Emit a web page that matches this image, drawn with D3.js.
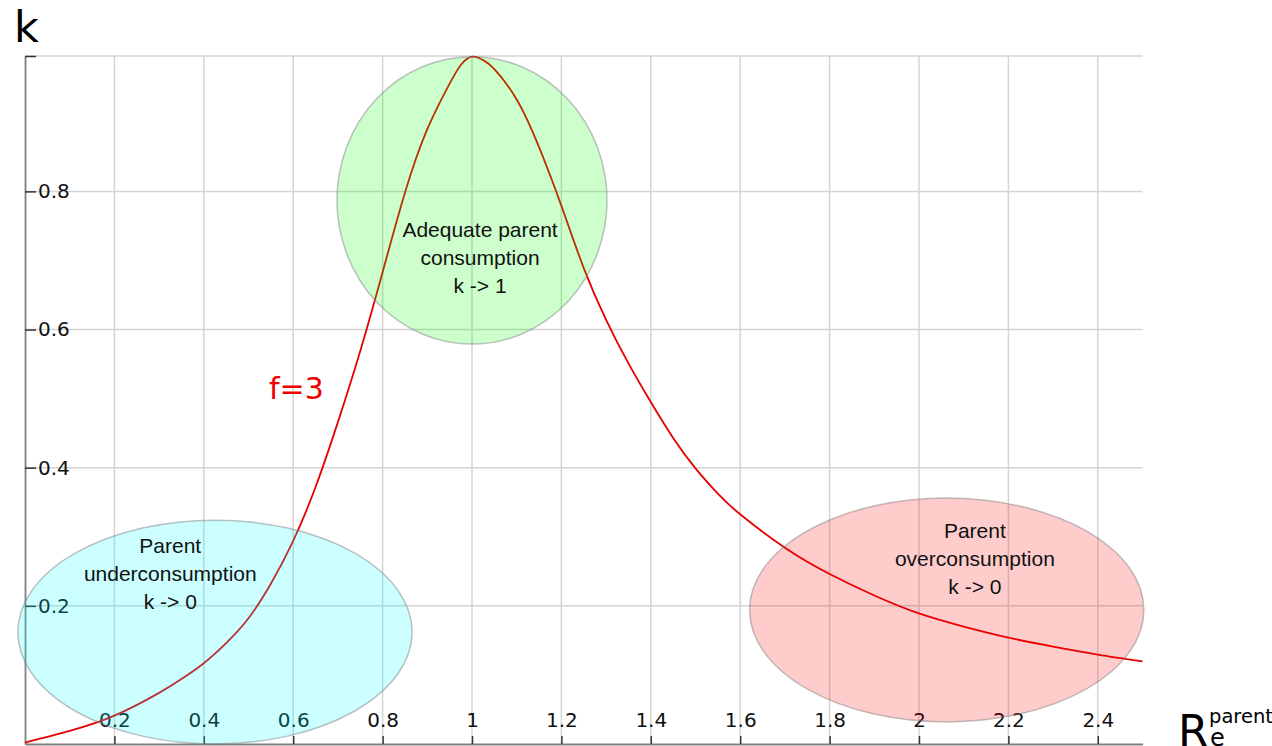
<!DOCTYPE html>
<html>
<head>
<meta charset="utf-8">
<script src="https://cdn.jsdelivr.net/npm/d3@7/dist/d3.min.js"></script>
<style>
  body { margin: 0; background: #fff; }
  svg { display: block; }
</style>
</head>
<body>
<div id="main"></div>
<script>
// values (R_e parent on x, k on y), f=3 curve
var rValues = [0, 0.1, 0.2, 0.3, 0.35, 0.4, 0.45, 0.5, 0.55, 0.6, 0.65, 0.7, 0.75, 0.8,
  0.85, 0.9, 0.95, 0.975, 1.0, 1.025, 1.05, 1.1, 1.15, 1.2, 1.25, 1.3, 1.35, 1.4, 1.45,
  1.5, 1.55, 1.6, 1.7, 1.8, 1.9, 2.0, 2.1, 2.2, 2.3, 2.4, 2.5];
var kValues = [0.002, 0.019, 0.041, 0.074, 0.094, 0.117, 0.146, 0.182, 0.232, 0.294, 0.372, 0.466, 0.569, 0.683,
  0.798, 0.890, 0.956, 0.983, 0.995, 0.990, 0.977, 0.933, 0.864, 0.779, 0.689, 0.614, 0.551, 0.495, 0.443,
  0.399, 0.3625, 0.3325, 0.284, 0.246, 0.215, 0.189, 0.170, 0.154, 0.141, 0.1295, 0.1195];

var xTicks = [0.2, 0.4, 0.6, 0.8, 1, 1.2, 1.4, 1.6, 1.8, 2, 2.2, 2.4];
var yTicks = [0.2, 0.4, 0.6, 0.8];
var curveLabel = "f=3";

// the three regions: centre and half-axes in data units
var regionNames = ["under", "adequate", "over"];
var regionCentreR = [0.425, 1.0, 2.062];
var regionCentreK = [0.162, 0.787, 0.194];
var regionHalfR = [0.441, 0.302, 0.441];
var regionHalfK = [0.162, 0.208, 0.162];
var regionText = [
  ["Parent", "underconsumption", "k -> 0"],
  ["Adequate parent", "consumption", "k -> 1"],
  ["Parent", "overconsumption", "k -> 0"]
];

var W = 1272, H = 746;
var xMax = 2.5, yMax = 0.996;

var svg = d3.select("#main").append("svg")
  .attr("width", W)
  .attr("height", H);

var x = d3.scaleLinear().domain([0, xMax]).range([25, 1142.5]);
var y = d3.scaleLinear().domain([0, yMax]).range([744, 56]);

var fillColors = ["#00ffff", "#00ff00", "#ff0000"];
var textShiftR = [-0.1, 0.018, 0.063];
var textBase = [-79, 37, -72];

// grid
var grid = svg.append("g");
grid.selectAll("line.v").data(xTicks).enter().append("line")
  .attr("x1", function(d) { return x(d); })
  .attr("x2", function(d) { return x(d); })
  .attr("y1", y(yMax))
  .attr("y2", y(0))
  .attr("stroke", "#d4d4d4")
  .attr("stroke-width", 1.5);
grid.selectAll("line.h").data(yTicks.concat([yMax])).enter().append("line")
  .attr("x1", x(0))
  .attr("x2", x(xMax))
  .attr("y1", function(d) { return y(d); })
  .attr("y2", function(d) { return y(d); })
  .attr("stroke", "#d4d4d4")
  .attr("stroke-width", 1.5);

// axes, ticks pointing inwards and labels inside the plot
var fmt = function(d) { return String(+d.toFixed(1)); };

var xAxis = svg.append("g")
  .attr("transform", "translate(0," + y(0) + ")")
  .call(d3.axisBottom(x).tickValues(xTicks).tickSize(-8).tickSizeOuter(0).tickFormat(fmt));
xAxis.selectAll("text")
  .attr("y", -17)
  .attr("dy", 0);

var yAxis = svg.append("g")
  .attr("transform", "translate(" + x(0) + ",0)")
  .call(d3.axisLeft(y).tickValues(yTicks.concat([yMax])).tickSize(-11).tickSizeOuter(0)
    .tickFormat(function(d) { return d === yMax ? "" : fmt(d); }));
yAxis.selectAll("text")
  .attr("x", 13)
  .attr("text-anchor", "start");

svg.selectAll(".domain").attr("stroke", "#808080").attr("stroke-width", 1.8);
svg.selectAll(".tick line").attr("stroke", "#333").attr("stroke-width", 1.5);
svg.selectAll(".tick text")
  .attr("font-family", "DejaVu Sans")
  .attr("font-size", 20)
  .attr("fill", "#111");

// curve
var points = rValues.map(function(r, i) { return [r, kValues[i]]; });
var line = d3.line()
  .x(function(d) { return x(d[0]); })
  .y(function(d) { return y(d[1]); })
  .curve(d3.curveNatural);

svg.append("path")
  .datum(points)
  .attr("d", line)
  .attr("fill", "none")
  .attr("stroke", "#e60000")
  .attr("stroke-width", 1.8);

svg.append("text")
  .attr("x", 269)
  .attr("y", 399)
  .attr("font-family", "DejaVu Sans")
  .attr("font-size", 30)
  .attr("fill", "#ee0000")
  .text(curveLabel);

// regions
regionNames.forEach(function(name, i) {
  var cx = x(regionCentreR[i]), cy = y(regionCentreK[i]);
  svg.append("ellipse")
    .attr("class", name)
    .attr("cx", cx)
    .attr("cy", cy)
    .attr("rx", x(regionHalfR[i]) - x(0))
    .attr("ry", y(0) - y(regionHalfK[i]))
    .attr("fill", fillColors[i])
    .attr("fill-opacity", 0.2)
    .attr("stroke", "#777")
    .attr("stroke-opacity", 0.45)
    .attr("stroke-width", 1.5);

  var tx = x(regionCentreR[i] + textShiftR[i]);
  regionText[i].forEach(function(t, j) {
    svg.append("text")
      .attr("x", tx)
      .attr("y", cy + textBase[i] + j * 28)
      .attr("text-anchor", "middle")
      .attr("font-family", "Liberation Sans")
      .attr("font-size", 21)
      .attr("fill", "#111")
      .text(t);
  });
});

// axis names
svg.append("text")
  .attr("x", 14)
  .attr("y", 42)
  .attr("font-family", "DejaVu Sans")
  .attr("font-size", 43)
  .text("k");

var rLabel = svg.append("text")
  .attr("x", 1178)
  .attr("y", 747)
  .attr("font-family", "DejaVu Sans")
  .attr("font-size", 44);
rLabel.append("tspan").text("R");
rLabel.append("tspan").attr("x", 1209).attr("y", 723).attr("font-size", 19.5).text("parent");
rLabel.append("tspan").attr("x", 1210).attr("y", 746).attr("font-size", 24).text("e");
</script>
</body>
</html>
